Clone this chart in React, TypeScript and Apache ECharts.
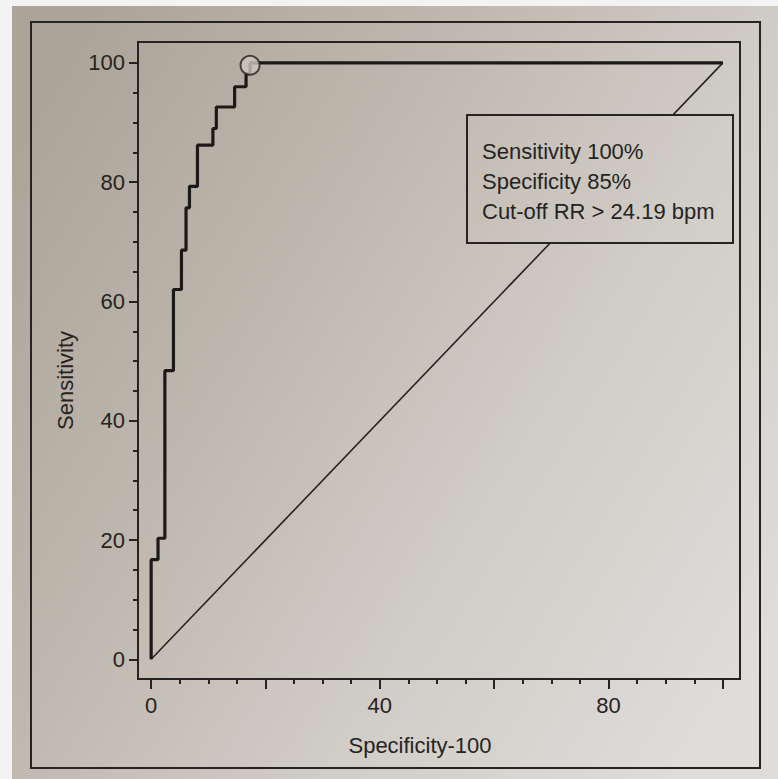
import React, { useEffect, useRef } from "react";
import * as echarts from "echarts";

// ROC operating points (1 - specificity, sensitivity), drawn as a step curve
const rocFpr = [0, 1.2, 2.4, 3.9, 5.3, 6.1, 6.7, 8.1, 10.8, 11.4, 14.6, 16.6, 17.3, 100];
const rocSens = [0, 16.7, 20.3, 48.4, 62, 68.6, 75.7, 79.3, 86.2, 89, 92.6, 96, 98.2, 100];

// chance diagonal
const refFpr = [0, 100];
const refSens = [0, 100];

// optimal cut-off point
const cutoffFpr = [17.3];
const cutoffSens = [99.6];

// axes
const xMajorTicks = [0, 20, 40, 60, 80, 100];
const xLabelValues = [0, 40, 80];
const xMinorTicks = [5, 10, 15, 25, 30, 35, 45, 50, 55, 65, 70, 75, 85, 90, 95];
const yMajorTicks = [0, 20, 40, 60, 80, 100];
const yLabelValues = [0, 20, 40, 60, 80, 100];
const yMinorTicks = [5, 10, 15, 25, 30, 35, 45, 50, 55, 65, 70, 75, 85, 90, 95];

const annotationLines = ["Sensitivity 100%", "Specificity 85%", "Cut-off RR > 24.19 bpm"];

const xTitle = "Specificity-100";
const yTitle = "Sensitivity";

export default function App() {
  const ref = useRef<HTMLDivElement>(null);

  useEffect(() => {
    if (!ref.current) return;
    const chart = echarts.init(ref.current, undefined, { renderer: "svg" });
    const ink = "#262422";
    const font = "Liberation Sans, Arial, sans-serif";
    const paper = {
      type: "linear",
      x: 0,
      y: 150,
      x2: 778,
      y2: 630,
      global: true,
      colorStops: [
        { offset: 0, color: "#aca499" },
        { offset: 0.35, color: "#bfb8ae" },
        { offset: 0.65, color: "#d0ccc6" },
        { offset: 1, color: "#dedddA" },
      ],
    };
    const gridBox = { left: 138, right: 38, top: 42, bottom: 100 };
    const tickStyle = { color: ink, width: 2 };

    chart.setOption({
      animation: false,
      backgroundColor: paper,
      grid: [
        { ...gridBox, show: true, borderColor: ink, borderWidth: 2, backgroundColor: "transparent" },
        { ...gridBox, show: false },
      ],
      xAxis: [
        {
          gridIndex: 0,
          type: "value",
          min: -2.3,
          max: 103,
          axisLine: { show: true, onZero: false, lineStyle: { color: ink, width: 2 } },
          axisTick: { show: true, customValues: xMajorTicks, length: 10, lineStyle: tickStyle },
          axisLabel: { customValues: xLabelValues, fontSize: 22, color: ink, margin: 15, fontFamily: font },
          splitLine: { show: false },
          name: xTitle,
          nameLocation: "middle",
          nameGap: 55,
          nameTextStyle: { fontSize: 22, color: ink, fontFamily: font, padding: [0, 38, 0, 0] },
        },
        {
          gridIndex: 1,
          type: "value",
          min: -2.3,
          max: 103,
          axisLine: { show: false, onZero: false },
          axisTick: { show: true, customValues: xMinorTicks, length: 5, lineStyle: tickStyle },
          axisLabel: { show: false },
          splitLine: { show: false },
        },
      ],
      yAxis: [
        {
          gridIndex: 0,
          type: "value",
          min: -3.3,
          max: 103.5,
          axisLine: { show: true, onZero: false, lineStyle: { color: ink, width: 2 } },
          axisTick: { show: true, customValues: yMajorTicks, length: 9, lineStyle: tickStyle },
          axisLabel: { customValues: yLabelValues, fontSize: 22, color: ink, margin: 13, fontFamily: font },
          splitLine: { show: false },
          name: yTitle,
          nameLocation: "middle",
          nameGap: 62,
          nameTextStyle: { fontSize: 22, color: ink, fontFamily: font, padding: [0, 40, 0, 0] },
        },
        {
          gridIndex: 1,
          type: "value",
          min: -3.3,
          max: 103.5,
          axisLine: { show: false, onZero: false },
          axisTick: { show: true, customValues: yMinorTicks, length: 5, lineStyle: tickStyle },
          axisLabel: { show: false },
          splitLine: { show: false },
        },
      ],
      series: [
        {
          type: "line",
          xAxisIndex: 0,
          yAxisIndex: 0,
          data: refFpr.map((x, i) => [x, refSens[i]]),
          showSymbol: false,
          lineStyle: { color: ink, width: 1.6 },
          z: 2,
        },
        {
          type: "line",
          xAxisIndex: 0,
          yAxisIndex: 0,
          step: "start",
          data: rocFpr.map((x, i) => [x, rocSens[i]]),
          showSymbol: false,
          lineStyle: { color: "#1b1a19", width: 3.2 },
          z: 3,
        },
        {
          type: "scatter",
          xAxisIndex: 0,
          yAxisIndex: 0,
          data: cutoffFpr.map((x, i) => [x, cutoffSens[i]]),
          symbol: "circle",
          symbolSize: 19,
          itemStyle: { color: "#cbc6be", borderColor: ink, borderWidth: 2 },
          z: 4,
        },
      ],
      graphic: [
        { type: "rect", z: 0, silent: true, shape: { x: 0, y: 0, width: 778, height: 6 }, style: { fill: "#f3f3f3" } },
        { type: "rect", z: 0, silent: true, shape: { x: 0, y: 0, width: 12, height: 779 }, style: { fill: "#f3f3f3" } },
        {
          type: "rect",
          z: 0,
          silent: true,
          shape: { x: 31, y: 22, width: 729, height: 746 },
          style: { fill: "transparent", stroke: ink, lineWidth: 2 },
        },
        {
          type: "rect",
          z: 100,
          silent: true,
          shape: { x: 467, y: 115, width: 266, height: 128 },
          style: { fill: paper, stroke: ink, lineWidth: 2 },
        },
        ...annotationLines.map((t, i) => ({
          type: "text",
          z: 101,
          silent: true,
          x: 482,
          y: 151 + i * 30,
          style: {
            text: t,
            fill: ink,
            font: `22px ${font}`,
            verticalAlign: "middle",
            align: "left",
          },
        })),
      ],
    });

    return () => chart.dispose();
  }, []);

  return (
    <div
      ref={ref}
      style={{ position: "fixed", left: 0, top: 0, width: 778, height: 779 }}
    />
  );
}
